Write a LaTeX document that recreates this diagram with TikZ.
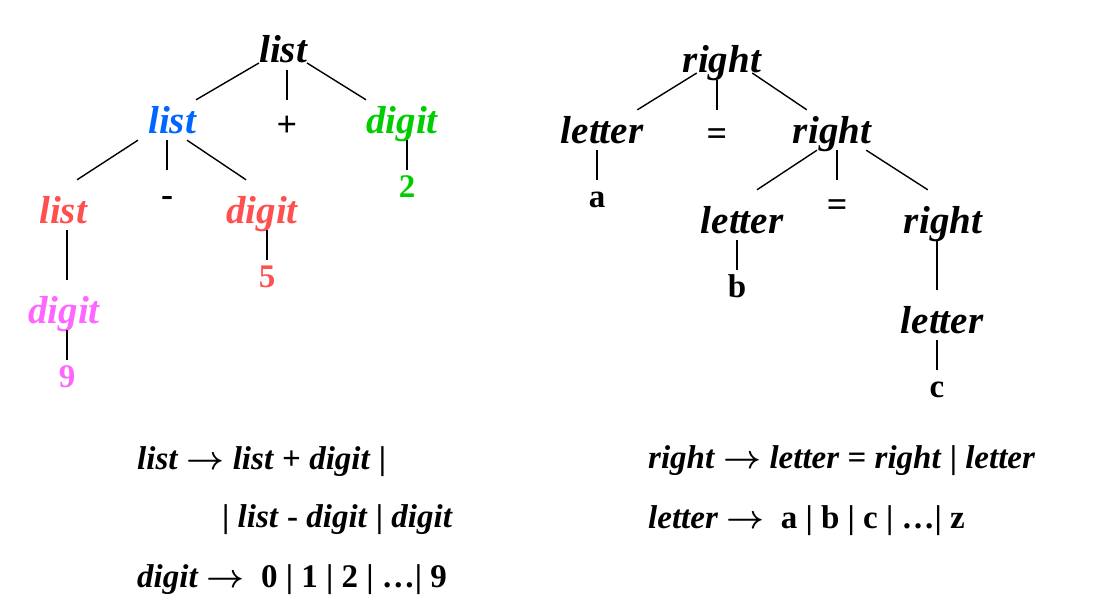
\RequirePackage{fix-cm}
\documentclass[tikz,border=0pt]{standalone}
\usepackage{fontspec}
\setmainfont{Liberation Serif}
\usetikzlibrary{positioning}
\definecolor{listblue}{RGB}{0,102,255}
\definecolor{digitgreen}{RGB}{0,204,0}
\definecolor{listred}{RGB}{255,80,80}
\definecolor{digitpink}{RGB}{255,102,255}
% production arrow
\newcommand{\derives}{{\boldmath$\rightarrow$}}
\tikzset{
    %Define style for nonterminals
    nt/.style={
           font=\fontsize{39}{42}\selectfont\bfseries\itshape,
           inner sep=0pt,
           text height=33pt,
           text depth=7pt,
           anchor=base},
    % lower rows hang a bit further
    low/.style={text height=43pt},
    % Define style for terminals
    tm/.style={
           font=\fontsize{33}{36}\selectfont\bfseries,
           inner sep=0pt,
           text height=27pt,
           text depth=7pt,
           anchor=base},
    % operators inside the trees
    op/.style={
           font=\fontsize{36}{40}\selectfont\bfseries,
           inner sep=0pt,
           text height=36pt,
           anchor=base},
    % grammar lines
    prod/.style={
           font=\fontsize{33}{36}\selectfont\bfseries,
           inner sep=0pt,
           anchor=base west},
    % Define line style
    edge/.style={line width=1.4pt}
}

\begin{document}
\begin{tikzpicture}[x=1pt, y=-1pt]
		\useasboundingbox (0,0) rectangle (1112,602);
		% left tree
		\node[nt] (root) at (283,63) {list};
		\node[nt, text=listblue] (blist) at (172,133) {list};
		\node[op] (plus) at (287,136) {+};
		\node[nt, text=digitgreen] (gdigit) at (402,133) {digit};
		\node[tm, text=digitgreen] (two) at (407,197) {2};
		\node[nt, low, text=listred] (rlist) at (63,223) {list};
		\node[op] (minus) at (167,206) {-};
		\node[nt, low, text=listred] (rdigit) at (262,223) {digit};
		\node[tm, text=listred] (five) at (267,287) {5};
		\node[nt, low, text=digitpink] (pdigit) at (64,323) {digit};
		\node[tm, text=digitpink] (nine) at (67,387) {9};
		\draw[edge] (root.base west) -- (blist.north east);
		\draw[edge] (plus.north |- root.south) -- (plus.north);
		\draw[edge] (root.base east) -- (gdigit.north west);
		\draw[edge] ([xshift=-10pt]blist.south west) -- ([xshift=-10pt]rlist.north east);
		\draw[edge] (minus.north |- blist.south) -- (minus.north);
		\draw[edge] ([xshift=-9pt]blist.south east) -- ([xshift=20pt]rdigit.north west);
		\draw[edge] (two.north |- gdigit.south) -- (two.north);
		\draw[edge] (nine.north |- rlist.south) -- (nine.north |- pdigit.north);
		\draw[edge] (five.north |- rdigit.south) -- (five.north);
		\draw[edge] (nine.north |- pdigit.south) -- (nine.north);
		% right tree
		\node[nt] (rroot) at (722,73) {right};
		\node[nt] (letterA) at (602,143) {letter};
		\node[op] (eqA) at (717,146) {=};
		\node[nt] (rmid) at (832,143) {right};
		\node[tm] (a) at (597,207) {a};
		\node[nt, low] (letterB) at (742,233) {letter};
		\node[op] (eqB) at (837,216) {=};
		\node[nt, low] (rlow) at (943,233) {right};
		\node[tm] (b) at (737,297) {b};
		\node[nt, low] (letterC) at (942,333) {letter};
		\node[tm] (c) at (937,397) {c};
		\draw[edge] ([xshift=14pt]rroot.base west) -- ([xshift=-6pt]letterA.north east);
		\draw[edge] (eqA.north |- rroot.south) -- (eqA.north);
		\draw[edge] ([xshift=-9pt]rroot.base east) -- ([xshift=14pt]rmid.north west);
		\draw[edge] (a.north |- letterA.south) -- (a.north);
		\draw[edge] ([xshift=-15pt]rmid.south) -- ([xshift=15pt]letterB.north);
		\draw[edge] (eqB.north |- rmid.south) -- (eqB.north);
		\draw[edge] ([xshift=-5pt]rmid.south east) -- ([xshift=24pt]rlow.north west);
		\draw[edge] (b.north |- letterB.south) -- (b.north);
		\draw[edge] (c.north |- rlow.south) -- (c.north |- letterC.north);
		\draw[edge] (c.north |- letterC.south) -- (c.north);
		% grammars
		\node[prod] (gA) at (137,469) {\textit{list} \derives{} \textit{list} + \textit{digit} |};
		\node[prod] (gB) at (222,527) {| \textit{list} - \textit{digit} | \textit{digit}};
		\node[prod] (gC) at (137,587) {\textit{digit} \derives~~0 | 1 | 2 | …| 9};
		\node[prod] (gD) at (648,468) {\textit{right} \derives{} \textit{letter} = \textit{right} | \textit{letter}};
		\node[prod] (gE) at (648,528) {\textit{letter} \derives~~a | b | c | …| z};
	\end{tikzpicture}
\end{document}
